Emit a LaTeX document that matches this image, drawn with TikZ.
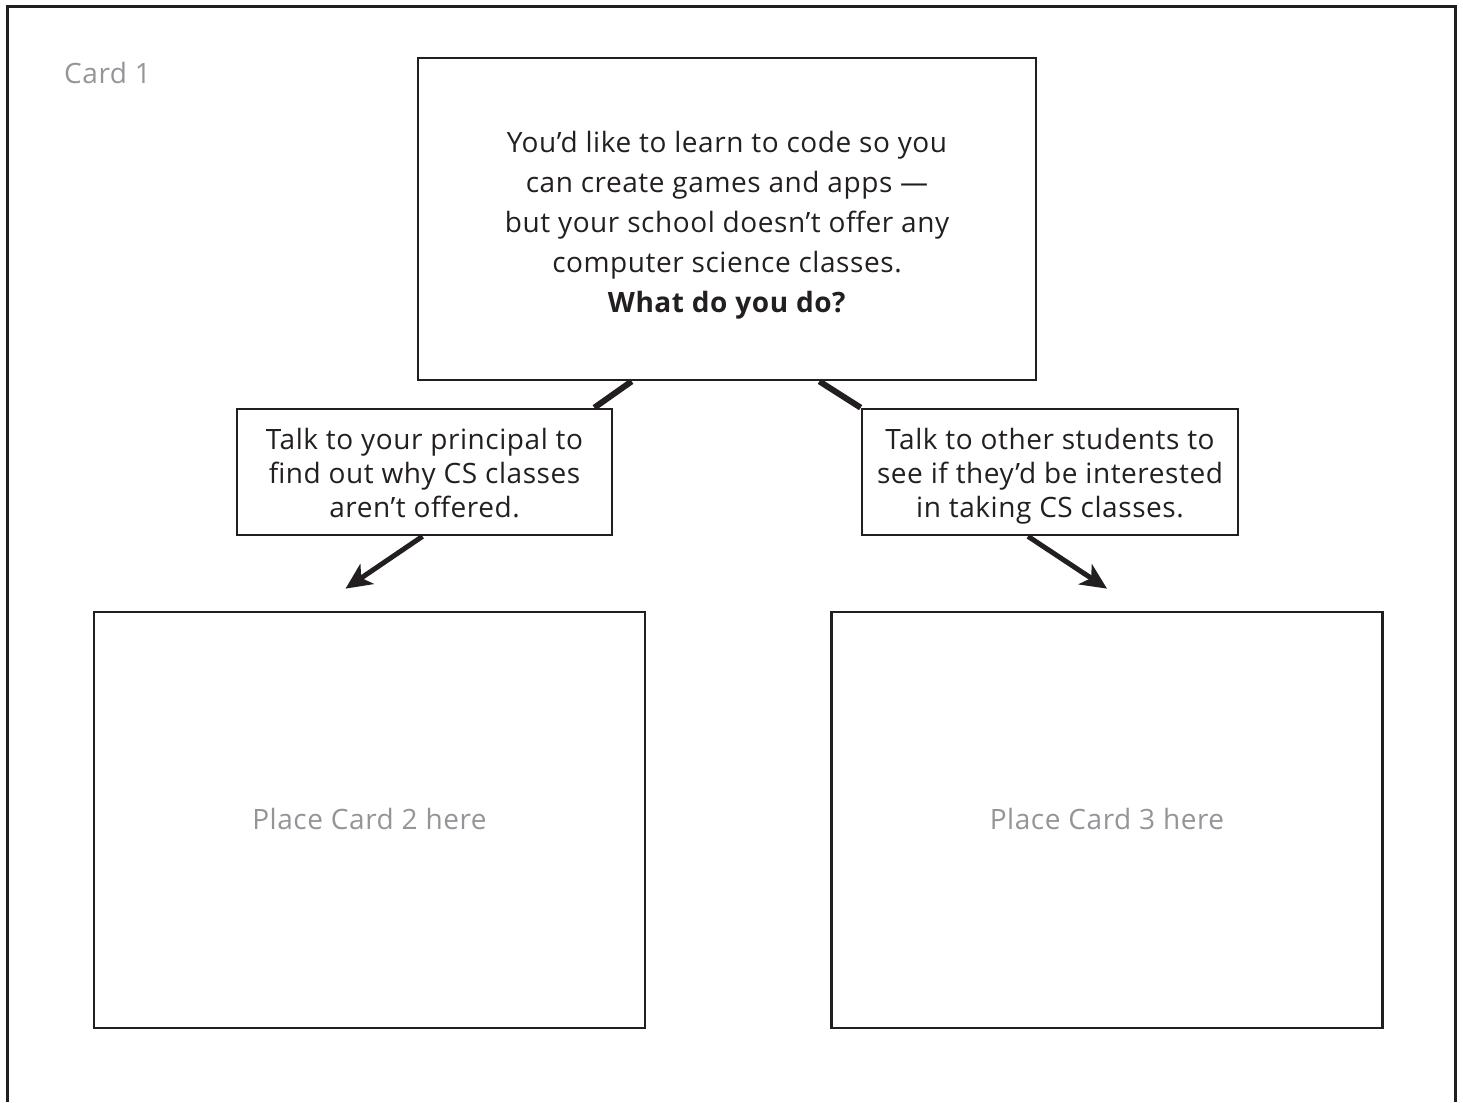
\documentclass[tikz,border=0pt]{standalone}
\usepackage{fontspec}
\setmainfont{Open Sans}[LetterSpace=2]
\usepackage{xcolor}
\usetikzlibrary{positioning,calc,arrows.meta}
\definecolor{ink}{HTML}{231F20}
\definecolor{greytxt}{HTML}{939598}
% invisible rules that set the first baseline and the last depth of a card
\newcommand{\padtop}[1]{\rule{0pt}{#1}}
\newcommand{\padbot}[1]{\rule[-#1]{0pt}{#1}}

\begin{document}
\begin{tikzpicture}[x=1pt,y=-1pt,
    card/.style={draw=ink, line width=2.7pt, inner sep=0pt, align=center, text=ink},
    slot/.style={card, minimum width=551pt, minimum height=416pt, text=greytxt, font=\fontsize{28}{34}\selectfont},
    query/.style={card, minimum width=375pt, minimum height=126pt, font=\fontsize{28}{34.3}\selectfont},
    link/.style={draw=ink, line width=6pt},
    pick/.style={draw=ink, line width=5pt, -{Stealth[length=26pt,width=24pt,inset=7pt]}}]
    \useasboundingbox (0,0) rectangle (1463,1102);
    \draw[ink, line width=3pt] (7.5,1102) -- (7.5,7) -- (1455,7) -- (1455,1102);
    \node[text=greytxt, font=\fontsize{28}{34}\selectfont, inner sep=0pt, anchor=base west] (label) at (64,84) {Card 1};
    \node[card, minimum width=618pt, minimum height=322pt, font=\fontsize{28}{40}\selectfont] (top) at (727,219)
        {\padtop{34pt}You'd like to learn to code so you\\can create games and apps ---\\but your school doesn't offer any\\computer science classes.\\\textbf{What do you do?}\padbot{7pt}};
    \node[query] (lq) at (424.5,472) {\padtop{30.2pt}Talk to your principal to\\find out why CS classes\\aren't offered.\padbot{7pt}};
    \node[query, minimum width=376pt] (rq) at (1050,472) {\padtop{30.2pt}Talk to other students to\\see if they'd be interested\\in taking CS classes.\padbot{7pt}};
    \node[slot] (lc) at (369.5,820) {\padtop{21.5pt}Place Card 2 here\padbot{3.5pt}};
    \node[slot] (rc) at (1107,820) {\padtop{21.5pt}Place Card 3 here\padbot{3.5pt}};
    % connectors
    \draw[link] ([xshift=215pt]top.south west) -- ([xshift=-19pt]lq.north east);
    \draw[link] ([xshift=-218pt]top.south east) -- (rq.north west);
    \coordinate (lend) at ([xshift=-24pt,yshift=22pt]lc.north);
    \coordinate (rend) at ([yshift=22pt]rc.north);
    \draw[pick] ([xshift=-2pt]lq.south) -- (lend);
    \draw[pick] ([xshift=-22pt]rq.south) -- (rend);
\end{tikzpicture}
\end{document}
